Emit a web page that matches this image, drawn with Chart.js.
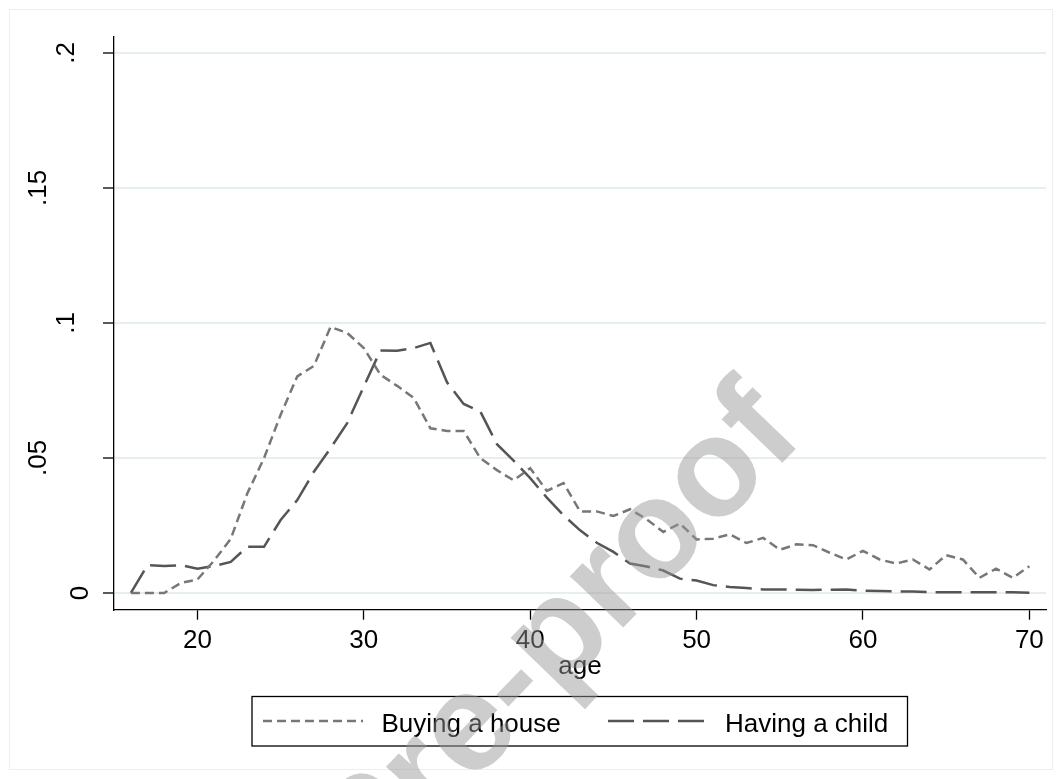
<!DOCTYPE html>
<html lang="en">

<head>
    <meta charset="UTF-8">
    <title>Buying a house / Having a child by age</title>
    <script src="https://cdn.jsdelivr.net/npm/chart.js@4.4.1/dist/chart.umd.min.js"></script>
    <style>
        body {
            margin: 0;
            background: #ffffff;
        }

        canvas {
            display: block;
        }
    </style>
</head>

<body>
    <canvas id="chart" width="1062" height="779"></canvas>

    <script>
        // ages on the x axis
        const ages = [16, 17, 18, 19, 20, 21, 22, 23, 24, 25, 26, 27, 28, 29, 30, 31, 32, 33, 34, 35,
            36, 37, 38, 39, 40, 41, 42, 43, 44, 45, 46, 47, 48, 49, 50, 51, 52, 53, 54, 55,
            56, 57, 58, 59, 60, 61, 62, 63, 64, 65, 66, 67, 68, 69, 70];

        const buyingHouse = [0, 0, 0, 0.0037, 0.005, 0.012, 0.020, 0.0369, 0.0499, 0.066,
            0.0802, 0.0841, 0.0985, 0.0963, 0.0907, 0.0808, 0.0767, 0.0722, 0.061, 0.060,
            0.060, 0.0499, 0.0455, 0.0417, 0.0462, 0.0378, 0.0407, 0.0302, 0.0302, 0.0285,
            0.031, 0.0273, 0.0226, 0.0257, 0.0198, 0.0201, 0.0217, 0.0185, 0.0204, 0.016,
            0.018, 0.0177, 0.0149, 0.0124, 0.0156, 0.0124, 0.0109, 0.0124, 0.0087, 0.014,
            0.0124, 0.0056, 0.009, 0.0056, 0.0099];

        const havingChild = [0, 0.0103, 0.0100, 0.0103, 0.0090, 0.0100, 0.0115, 0.0171, 0.0171, 0.027,
            0.0344, 0.0449, 0.0536, 0.0629, 0.0765, 0.0898, 0.0897, 0.0907, 0.0926, 0.0780,
            0.0700, 0.0672, 0.0551, 0.0490, 0.0425, 0.0353, 0.0288, 0.0232, 0.0186, 0.0152,
            0.0109, 0.0098, 0.0083, 0.0053, 0.0046, 0.0029, 0.0022, 0.0018, 0.0013, 0.0013,
            0.0012, 0.0011, 0.0012, 0.0013, 0.0008, 0.0007, 0.0006, 0.0005, 0.0003, 0.0003,
            0.0003, 0.0003, 0.0003, 0.0003, 0.0001];

        const xTicks = [20, 30, 40, 50, 60, 70];
        const yTicks = [0, 0.05, 0.1, 0.15, 0.2];
        const yTickLabels = ['0', '.05', '.1', '.15', '.2'];

        const seriesLabels = ['Buying a house', 'Having a child'];
        const xTitle = 'age';
        const watermark = 'Pre-proof';

        const FONT = '"Liberation Sans", Arial, sans-serif';

        // stata style y labels, legend box, faint graph region frame, watermark
        const extras = {
            id: 'extras',
            beforeDraw(chart) {
                const ctx = chart.ctx;
                ctx.save();
                ctx.strokeStyle = '#eeeeee';
                ctx.lineWidth = 1;
                ctx.strokeRect(9.5, 9.5, 1043, 760);
                ctx.restore();
            },
            afterDraw(chart) {
                const ctx = chart.ctx;
                ctx.save();

                // rotated y tick labels (stata shifts longer labels further out)
                const ys = chart.scales.y;
                ctx.font = '26px ' + FONT;
                ctx.fillStyle = '#000000';
                ctx.textAlign = 'center';
                ctx.textBaseline = 'middle';
                ys.ticks.forEach((t) => {
                    const i = yTicks.indexOf(t.value);
                    if (i < 0) return;
                    const txt = yTickLabels[i];
                    const w = ctx.measureText(txt).width;
                    const cx = ys.right - 6 - 1.9 * w;
                    const cy = ys.getPixelForValue(t.value);
                    ctx.save();
                    ctx.translate(cx, cy);
                    ctx.rotate(-Math.PI / 2);
                    ctx.fillText(txt, 0, 0);
                    ctx.restore();
                });

                // legend
                ctx.strokeStyle = '#000000';
                ctx.lineWidth = 1.3;
                ctx.strokeRect(252, 696.5, 655.5, 49.5);
                const entries = [
                    { x0: 263, x1: 363, tx: 381.5 },
                    { x0: 608, x1: 707, tx: 725 }
                ];
                chart.data.datasets.forEach((ds, i) => {
                    const e = entries[i];
                    ctx.beginPath();
                    ctx.setLineDash(ds.borderDash);
                    ctx.strokeStyle = ds.borderColor;
                    ctx.lineWidth = ds.borderWidth;
                    ctx.moveTo(e.x0, 721);
                    ctx.lineTo(e.x1, 721);
                    ctx.stroke();
                    ctx.setLineDash([]);
                    ctx.fillStyle = '#000000';
                    ctx.font = '26px ' + FONT;
                    ctx.textAlign = 'left';
                    ctx.textBaseline = 'alphabetic';
                    ctx.fillText(ds.label, e.tx, 731.5);
                });

                // watermark
                ctx.translate(368, 892);
                ctx.rotate(-46 * Math.PI / 180);
                ctx.font = 'bold 140px ' + FONT;
                ctx.fillStyle = 'rgba(150,150,150,0.48)';
                ctx.textAlign = 'left';
                ctx.textBaseline = 'alphabetic';
                ctx.fillText(watermark, 0, 0);
                ctx.restore();
            }
        };

        const ctx = document.getElementById('chart').getContext('2d');
        const myChart = new Chart(ctx, {
            type: 'line',
            data: {
                datasets: [{
                    label: seriesLabels[0],
                    data: ages.map((a, i) => ({ x: a, y: buyingHouse[i] })),
                    borderColor: '#777777',
                    borderWidth: 2.5,
                    borderDash: [9, 5],
                    pointRadius: 0,
                    tension: 0,
                    fill: false
                }, {
                    label: seriesLabels[1],
                    data: ages.map((a, i) => ({ x: a, y: havingChild[i] })),
                    borderColor: '#555555',
                    borderWidth: 2.5,
                    borderDash: [26, 9],
                    pointRadius: 0,
                    tension: 0,
                    fill: false
                }]
            },
            options: {
                responsive: false,
                animation: false,
                layout: {
                    padding: { top: 37, right: 16, bottom: 97, left: 0 }
                },
                plugins: {
                    legend: { display: false },
                    tooltip: { enabled: false }
                },
                scales: {
                    x: {
                        type: 'linear',
                        min: 14.985,
                        max: 71,
                        afterBuildTicks: (scale) => {
                            scale.ticks = xTicks.map(v => ({ value: v }));
                        },
                        afterFit: (scale) => {
                            scale.height = 72.3;
                        },
                        border: { color: '#000000', width: 1.3 },
                        grid: {
                            drawOnChartArea: false,
                            drawTicks: true,
                            tickLength: 10,
                            tickColor: '#000000',
                            tickWidth: 1.3
                        },
                        ticks: {
                            color: '#000000',
                            padding: 6,
                            maxRotation: 0,
                            font: { family: FONT, size: 26 },
                            callback: (v) => String(v)
                        },
                        title: {
                            display: true,
                            text: xTitle,
                            color: '#000000',
                            padding: { top: 0, bottom: 0 },
                            font: { family: FONT, size: 26 }
                        }
                    },
                    y: {
                        min: -0.0062,
                        max: 0.2059,
                        afterBuildTicks: (scale) => {
                            scale.ticks = yTicks.map(v => ({ value: v }));
                        },
                        afterFit: (scale) => {
                            scale.width = 114;
                        },
                        border: { color: '#000000', width: 1.3 },
                        grid: {
                            color: '#e6eef1',
                            lineWidth: 2,
                            drawTicks: true,
                            tickLength: 11,
                            tickColor: '#000000',
                            tickWidth: 1.3
                        },
                        ticks: {
                            display: false
                        }
                    }
                }
            },
            plugins: [extras]
        });
    </script>

</body>

</html>
